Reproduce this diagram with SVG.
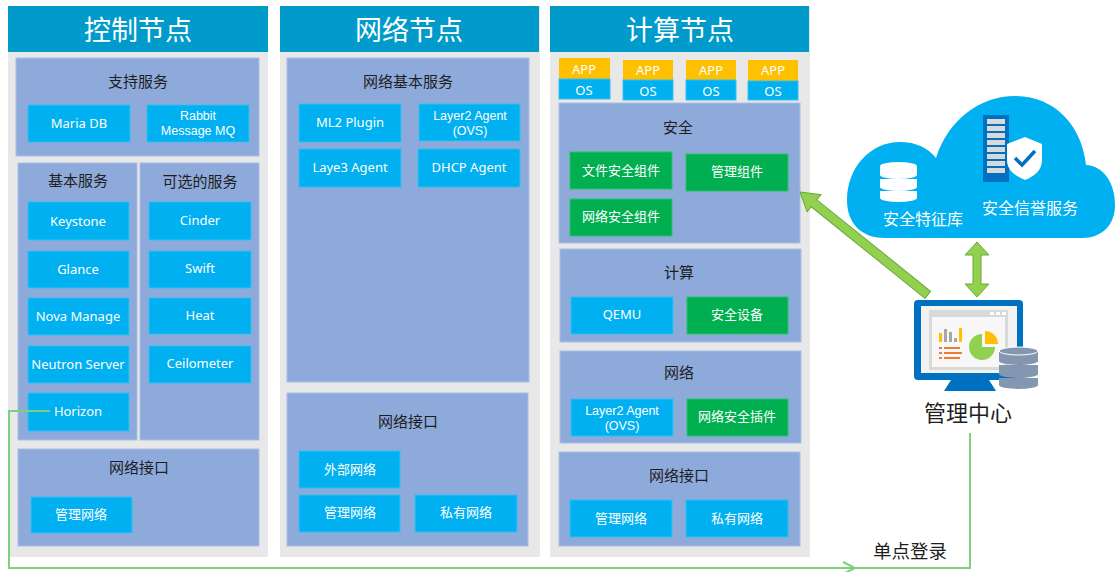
<svg xmlns="http://www.w3.org/2000/svg" width="1119" height="572" viewBox="0 0 1119 572">
  <style>
    text { font-family: "Noto Sans", "Noto Sans CJK SC", sans-serif; text-anchor: middle; dominant-baseline: central; }
    .col { fill: #E8E8E8; }
    .head { fill: #009BCB; }
    .headtxt { fill: #FFFFFF; font-size: 27px; }
    .panel { fill: #8EAADB; stroke: #A9BEE6; stroke-width: 1; }
    .ptitle { fill: #1E1E1E; font-size: 15px; }
    .blue { fill: #00B0F0; stroke: #33C0F2; stroke-width: 1; }
    .green { fill: #00B050; stroke: #2DBF6A; stroke-width: 1; }
    .app { fill: #FFC000; }
    .btxt { fill: #FFFFFF; font-size: 13px; }
    .two { fill: #FFFFFF; font-size: 12.5px; font-family: "Liberation Sans", "Noto Sans CJK SC", sans-serif; }
    .wtxt { fill: #FFFFFF; font-size: 16px; }
    .fat { fill: #92D050; stroke: #6AA83A; stroke-width: 1; }
    .sso { fill: none; stroke: #7ED07E; stroke-width: 2; }
  </style>

  <!-- Control node -->
  <g id="control-node">
    <rect class="col" x="8" y="6" width="260" height="551"/>
    <rect class="head" x="8" y="6" width="260" height="46"/>
    <text class="headtxt" x="138" y="29">控制节点</text>

    <rect class="panel" x="16" y="58" width="243" height="98"/>
    <text class="ptitle" x="138" y="81">支持服务</text>
    <rect class="blue" x="28" y="105" width="102" height="37"/>
    <text class="btxt" x="79" y="123">Maria DB</text>
    <rect class="blue" x="147" y="105" width="102" height="37"/>
    <text class="two" x="198" y="116">Rabbit</text>
    <text class="two" x="198" y="131">Message MQ</text>

    <rect class="panel" x="18" y="163" width="119" height="277"/>
    <text class="ptitle" x="78" y="180">基本服务</text>
    <rect class="blue" x="28" y="202" width="101" height="38"/>
    <text class="btxt" x="78" y="221">Keystone</text>
    <rect class="blue" x="28" y="251" width="101" height="37"/>
    <text class="btxt" x="78" y="269">Glance</text>
    <rect class="blue" x="28" y="298" width="101" height="37"/>
    <text class="btxt" x="78" y="316">Nova Manage</text>
    <rect class="blue" x="28" y="346" width="101" height="37"/>
    <text class="btxt" x="78" y="364">Neutron Server</text>
    <rect class="blue" x="28" y="393" width="101" height="38"/>
    <text class="btxt" x="78" y="411">Horizon</text>

    <rect class="panel" x="140" y="163" width="119" height="277"/>
    <text class="ptitle" x="200" y="181">可选的服务</text>
    <rect class="blue" x="149" y="202" width="102" height="38"/>
    <text class="btxt" x="200" y="220">Cinder</text>
    <rect class="blue" x="149" y="251" width="102" height="37"/>
    <text class="btxt" x="200" y="268">Swift</text>
    <rect class="blue" x="149" y="298" width="102" height="36"/>
    <text class="btxt" x="200" y="315">Heat</text>
    <rect class="blue" x="149" y="346" width="102" height="37"/>
    <text class="btxt" x="200" y="363">Ceilometer</text>

    <rect class="panel" x="18" y="449" width="241" height="97"/>
    <text class="ptitle" x="139" y="467">网络接口</text>
    <rect class="blue" x="31" y="497" width="101" height="36"/>
    <text class="btxt" x="81" y="514">管理网络</text>
  </g>

  <!-- Network node -->
  <g id="network-node">
    <rect class="col" x="280" y="6" width="260" height="551"/>
    <rect class="head" x="280" y="6" width="259" height="46"/>
    <text class="headtxt" x="409" y="29">网络节点</text>

    <rect class="panel" x="287" y="58" width="242" height="324"/>
    <text class="ptitle" x="408" y="81">网络基本服务</text>
    <rect class="blue" x="299" y="104" width="102" height="38"/>
    <text class="btxt" x="350" y="122">ML2 Plugin</text>
    <rect class="blue" x="419" y="104" width="101" height="37"/>
    <text class="two" x="470" y="116">Layer2 Agent</text>
    <text class="two" x="470" y="131">(OVS)</text>
    <rect class="blue" x="299" y="149" width="102" height="38"/>
    <text class="btxt" x="350" y="167">Laye3 Agent</text>
    <rect class="blue" x="418" y="149" width="102" height="38"/>
    <text class="btxt" x="469" y="167">DHCP Agent</text>

    <rect class="panel" x="287" y="393" width="241" height="153"/>
    <text class="ptitle" x="408" y="421">网络接口</text>
    <rect class="blue" x="299" y="451" width="101" height="37"/>
    <text class="btxt" x="350" y="469">外部网络</text>
    <rect class="blue" x="299" y="495" width="101" height="37"/>
    <text class="btxt" x="350" y="512">管理网络</text>
    <rect class="blue" x="415" y="495" width="102" height="37"/>
    <text class="btxt" x="466" y="512">私有网络</text>
  </g>

  <!-- Compute node -->
  <g id="compute-node">
    <rect class="col" x="550" y="6" width="260" height="551"/>
    <rect class="head" x="550" y="6" width="259" height="46"/>
    <text class="headtxt" x="680" y="29">计算节点</text>

    <rect class="app" x="559" y="58" width="51" height="21"/>
    <rect class="blue" x="559" y="79" width="51" height="20" stroke="none"/>
    <text class="btxt" x="584" y="69">APP</text>
    <text class="btxt" x="584" y="90">OS</text>
    <rect class="app" x="623" y="60" width="50" height="20"/>
    <rect class="blue" x="623" y="80" width="50" height="20" stroke="none"/>
    <text class="btxt" x="648" y="70">APP</text>
    <text class="btxt" x="648" y="91">OS</text>
    <rect class="app" x="686" y="60" width="50" height="20"/>
    <rect class="blue" x="686" y="80" width="50" height="20" stroke="none"/>
    <text class="btxt" x="711" y="70">APP</text>
    <text class="btxt" x="711" y="91">OS</text>
    <rect class="app" x="748" y="60" width="50" height="21"/>
    <rect class="blue" x="748" y="81" width="50" height="19" stroke="none"/>
    <text class="btxt" x="773" y="70">APP</text>
    <text class="btxt" x="773" y="91">OS</text>

    <rect class="panel" x="559" y="103" width="241" height="140"/>
    <text class="ptitle" x="678" y="127">安全</text>
    <rect class="green" x="570" y="152" width="102" height="37"/>
    <text class="btxt" x="621" y="170">文件安全组件</text>
    <rect class="green" x="686" y="154" width="102" height="37"/>
    <text class="btxt" x="737" y="171">管理组件</text>
    <rect class="green" x="570" y="199" width="102" height="37"/>
    <text class="btxt" x="621" y="216">网络安全组件</text>

    <rect class="panel" x="560" y="249" width="241" height="93"/>
    <text class="ptitle" x="679" y="272">计算</text>
    <rect class="blue" x="571" y="297" width="102" height="37"/>
    <text class="btxt" x="622" y="314">QEMU</text>
    <rect class="green" x="687" y="297" width="101" height="37"/>
    <text class="btxt" x="737" y="314">安全设备</text>

    <rect class="panel" x="560" y="351" width="241" height="92"/>
    <text class="ptitle" x="679" y="372">网络</text>
    <rect class="blue" x="571" y="399" width="102" height="37"/>
    <text class="two" x="622" y="411">Layer2 Agent</text>
    <text class="two" x="622" y="426">(OVS)</text>
    <rect class="green" x="687" y="399" width="101" height="37"/>
    <text class="btxt" x="737" y="416">网络安全插件</text>

    <rect class="panel" x="559" y="452" width="241" height="94"/>
    <text class="ptitle" x="679" y="475">网络接口</text>
    <rect class="blue" x="570" y="500" width="102" height="37"/>
    <text class="btxt" x="621" y="518">管理网络</text>
    <rect class="blue" x="686" y="500" width="102" height="37"/>
    <text class="btxt" x="737" y="518">私有网络</text>
  </g>

  <!-- Cloud services -->
  <g id="cloud">
    <path d="M 885 238 C 860 238 847 222 847 200 C 847 168 870 142 900 142 C 916 142 928 148 936 158 C 948 120 980 96 1015 96 C 1055 96 1082 126 1086 165 C 1103 166 1115 182 1115 205 C 1115 225 1102 238 1082 238 Z" fill="#00B0F0"/>
    <!-- database -->
    <g fill="#FFFFFF">
      <ellipse cx="898.5" cy="166" rx="18.5" ry="4"/>
      <path d="M 880 167 L 880 175 A 18.5 4 0 0 0 917 175 L 917 167 Z"/>
      <path d="M 880 179 L 880 187 A 18.5 4 0 0 0 917 187 L 917 179 Z"/>
      <path d="M 880 191 L 880 198 A 18.5 4 0 0 0 917 198 L 917 191 Z"/>
    </g>
    <text class="wtxt" x="923" y="219">安全特征库</text>
    <!-- server with shield -->
    <rect x="983" y="115" width="26" height="67" fill="#0070C0"/>
    <g fill="#D9D9D9">
      <rect x="987" y="119" width="18" height="5"/>
      <rect x="987" y="126" width="18" height="5"/>
      <rect x="987" y="133" width="18" height="5"/>
      <rect x="987" y="140" width="18" height="5"/>
      <rect x="987" y="147" width="18" height="5"/>
      <rect x="987" y="154" width="18" height="5"/>
      <rect x="987" y="161" width="18" height="5"/>
      <rect x="987" y="168" width="18" height="5"/>
    </g>
    <path d="M 1025 137 L 1042 144 L 1042 160 C 1042 170 1035 176 1025 180 C 1015 176 1007 170 1007 160 L 1007 144 Z" fill="#FFFFFF"/>
    <path d="M 1015 158 L 1022 165 L 1035 151" fill="none" stroke="#0070C0" stroke-width="3.5"/>
    <text class="wtxt" x="1030" y="208">安全信誉服务</text>
  </g>

  <!-- Management centre -->
  <g id="management-center">
    <rect x="914" y="300" width="109" height="80" rx="4" fill="#0070C0"/>
    <path d="M 944 391 L 996 391 L 989 380 L 951 380 Z" fill="#0070C0"/>
    <rect x="921" y="306" width="96" height="67" fill="#F2F2F2"/>
    <rect x="929" y="310" width="79" height="60" fill="#D9D9D9"/>
    <rect x="932" y="317" width="73" height="50" fill="#F7F7F7"/>
    <g fill="#FFFFFF">
      <rect x="990" y="312" width="4" height="3"/>
      <rect x="996" y="312" width="4" height="3"/>
      <rect x="1002" y="312" width="4" height="3"/>
    </g>
    <!-- bar chart -->
    <rect x="939" y="333" width="3" height="9" fill="#FFC000"/>
    <rect x="944" y="329" width="3" height="13" fill="#A6A6A6"/>
    <rect x="949" y="332" width="3" height="10" fill="#A6A6A6"/>
    <rect x="954" y="338" width="3" height="4" fill="#A6A6A6"/>
    <rect x="959" y="328" width="3" height="14" fill="#FFC000"/>
    <!-- list -->
    <g fill="#ED7D31">
      <rect x="939" y="347" width="3" height="2"/>
      <rect x="944" y="347" width="16" height="2"/>
      <rect x="939" y="352" width="3" height="2"/>
      <rect x="944" y="352" width="18" height="2"/>
      <rect x="939" y="357" width="3" height="2"/>
      <rect x="944" y="357" width="16" height="2"/>
    </g>
    <!-- pie -->
    <path d="M 982 347 L 982 334 A 13 13 0 1 0 995 347 Z" fill="#92D050"/>
    <path d="M 985 344 L 985 331 A 13 13 0 0 1 998 344 Z" fill="#FFC000"/>
    <!-- database -->
    <g fill="#8497B0">
      <ellipse cx="1018.5" cy="351" rx="19.5" ry="4"/>
      <path d="M 999 352 L 999 361 A 19.5 4 0 0 0 1038 361 L 1038 352 Z"/>
      <path d="M 999 365 L 999 374 A 19.5 4 0 0 0 1038 374 L 1038 365 Z"/>
      <path d="M 999 378 L 999 385 A 19.5 4 0 0 0 1038 385 L 1038 378 Z"/>
    </g>
    <ellipse cx="1018.5" cy="351" rx="19.5" ry="4" fill="none" stroke="#FFFFFF" stroke-width="1"/>
    <text x="968" y="412" fill="#1E1E1E" font-size="22px">管理中心</text>
  </g>

  <!-- Connectors -->
  <g id="connectors">
    <polygon class="fat" transform="translate(800,192) rotate(38.8)" points="0,0 18,-11 18,-4.5 164,-4.5 164,4.5 18,4.5 18,11"/>
    <polygon class="fat" points="977,242 989,255 981,255 981,284 989,284 977,297 965,284 973,284 973,255 965,255"/>
    <polyline class="sso" points="50,411 9,411 9,568 970,568 970,433"/>
    <polyline class="sso" points="843,562 855,568 843,574"/>
    <text x="910" y="550" fill="#1E1E1E" font-size="18.5px">单点登录</text>
  </g>
</svg>
